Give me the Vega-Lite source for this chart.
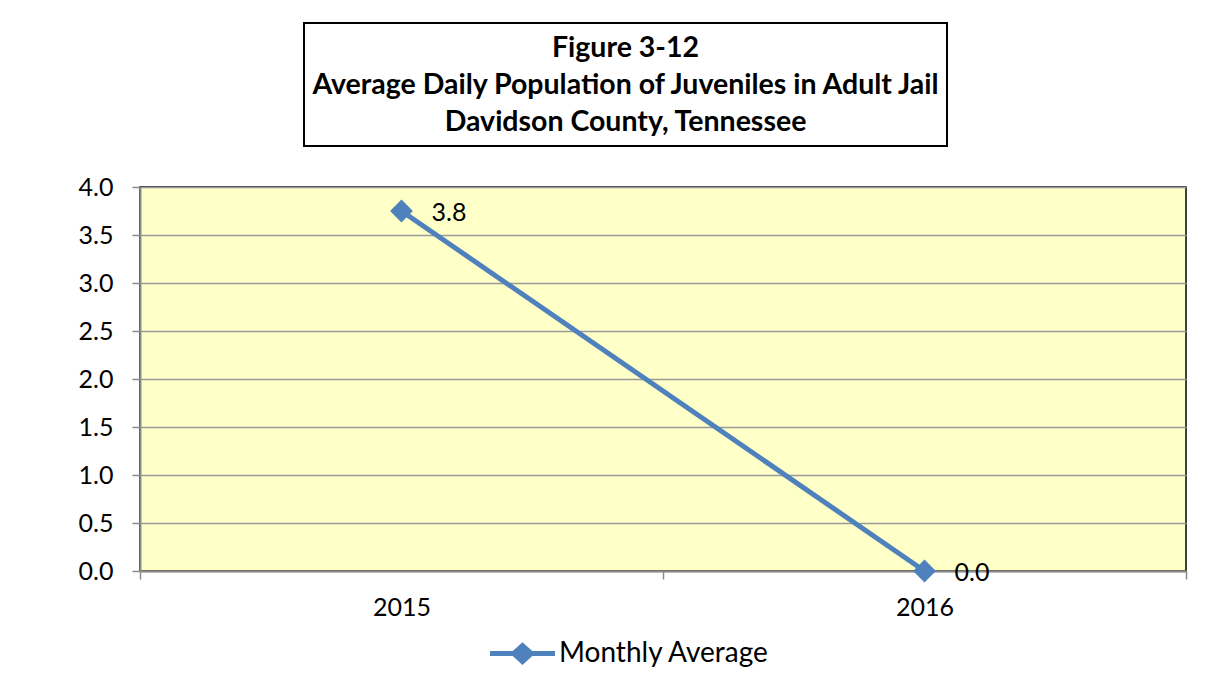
{
  "$schema": "https://vega.github.io/schema/vega-lite/v6.json",
  "background": "white",
  "padding": {"left": 77, "top": 22, "right": 10, "bottom": 10},
  "config": {"font": "Lato", "view": {"stroke": null}},
  "spacing": 164,
  "bounds": "flush",
  "resolve": {"scale": {"color": "independent"}, "legend": {"color": "independent"}},
  "vconcat": [
    {
      "spacing": 0,
      "bounds": "flush",
      "hconcat": [
        {
          "width": 164,
          "height": 123,
          "data": {"values": []},
          "mark": {"type": "point", "opacity": 0},
          "encoding": {}
        },
        {
          "width": 643,
          "height": 123,
          "view": {"stroke": "black", "strokeWidth": 2, "fill": "white"},
          "data": {"values": [{"t": "title"}]},
          "mark": {
            "type": "text",
            "text": ["Figure 3-12", "Average Daily Population of Juveniles in Adult Jail", "Davidson County, Tennessee"],
            "font": "Lato",
            "fontWeight": "bold",
            "fontSize": 28.5,
            "lineHeight": 37,
            "baseline": "middle",
            "align": "center",
            "dy": -37,
            "color": "black"
          },
          "encoding": {}
        }
      ]
    },
    {
      "width": 1046,
      "height": 384,
      "view": {"stroke": "black", "strokeWidth": 1.5, "fill": "#FFFFC8"},
      "data": {"values": [
        {"year": "2015", "value": 3.75, "series": "Monthly Average"},
        {"year": "2016", "value": 0.0, "series": "Monthly Average"}
      ]},
      "encoding": {
        "x": {
          "field": "year",
          "type": "ordinal",
          "bandPosition": 0.5,
          "scale": {"type": "band", "paddingInner": 0, "paddingOuter": 0},
          "axis": {
            "title": null,
            "labelAngle": 0,
            "labelFontSize": 25,
            "labelColor": "black",
            "labelPadding": 16,
            "tickBand": "extent",
            "tickSize": 8,
            "tickColor": "#8C8C8C",
            "tickWidth": 1.5,
            "domainColor": "#8C8C8C",
            "domainWidth": 2,
            "grid": false
          }
        },
        "y": {
          "field": "value",
          "type": "quantitative",
          "scale": {"domain": [0, 4], "nice": false},
          "axis": {
            "title": null,
            "values": [0, 0.5, 1, 1.5, 2, 2.5, 3, 3.5, 4],
            "format": ".1f",
            "labelFontSize": 25,
            "labelColor": "black",
            "labelPadding": 19,
            "tickSize": 8,
            "tickColor": "#8C8C8C",
            "tickWidth": 1.5,
            "domainColor": "#8C8C8C",
            "domainWidth": 2,
            "grid": true,
            "gridColor": "#9A9A9A",
            "gridWidth": 1.5
          }
        }
      },
      "layer": [
        {
          "mark": {"type": "line", "color": "#4F81BD", "strokeWidth": 5}
        },
        {
          "mark": {"type": "point", "shape": "diamond", "filled": true, "size": 520, "opacity": 1},
          "encoding": {
            "color": {
              "field": "series",
              "type": "nominal",
              "scale": {"range": ["#4F81BD"]},
              "legend": {
                "title": null,
                "orient": "none",
                "legendX": 350,
                "legendY": 434,
                "symbolType": "M-1,-0.075L-0.3,-0.075L0,-0.35L0.3,-0.075L1,-0.075L1,0.075L0.3,0.075L0,0.35L-0.3,0.075L-1,0.075Z",
                "symbolSize": 4225,
                "symbolStrokeWidth": 0,
                "symbolOpacity": 1,
                "labelFontSize": 28,
                "labelLimit": 0,
                "labelColor": "black",
                "labelOffset": 4
              }
            }
          }
        },
        {
          "mark": {"type": "text", "align": "left", "baseline": "middle", "dx": 30, "dy": 2, "fontSize": 25, "color": "black"},
          "encoding": {
            "text": {"field": "value", "type": "quantitative", "format": ".1f"}
          }
        }
      ]
    }
  ]
}
